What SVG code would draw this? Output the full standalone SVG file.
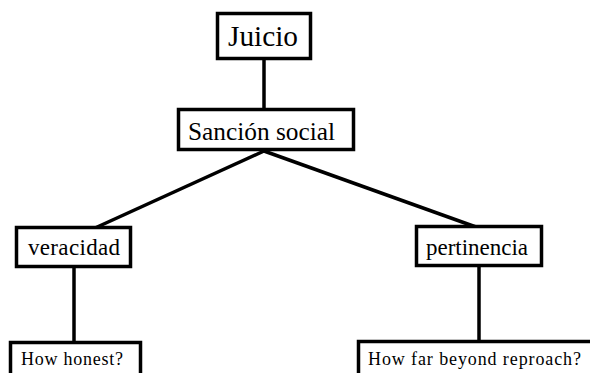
<svg xmlns="http://www.w3.org/2000/svg" width="590" height="373" viewBox="0 0 590 373">
<style>
.box{fill:#fff;stroke:#000;stroke-width:3.5}
.lbl{font-family:"Liberation Serif","Times New Roman",serif;fill:#000}
.con{stroke:#000;stroke-width:3.5;fill:none}
</style>
<rect width="590" height="373" fill="#fff"/>
<g id="connectors">
<line class="con" x1="264" y1="59" x2="264" y2="110"/>
<line class="con" x1="264" y1="151" x2="95" y2="228"/>
<line class="con" x1="264" y1="151" x2="476" y2="227"/>
<line class="con" x1="74" y1="266" x2="74" y2="343"/>
<line class="con" x1="479" y1="265" x2="479" y2="342"/>
</g>
<g id="juicio">
<rect class="box" x="217.5" y="13.5" width="93" height="45"/>
<text class="lbl" x="228" y="46" font-size="29" textLength="70" lengthAdjust="spacingAndGlyphs">Juicio</text>
</g>
<g id="sancion">
<rect class="box" x="178.5" y="109.5" width="175" height="40"/>
<text class="lbl" x="188" y="140" font-size="25" textLength="147" lengthAdjust="spacingAndGlyphs">Sanción social</text>
</g>
<g id="veracidad">
<rect class="box" x="16.5" y="227.5" width="114" height="39"/>
<text class="lbl" x="28" y="255" font-size="23" textLength="92">veracidad</text>
</g>
<g id="pertinencia">
<rect class="box" x="416.5" y="226.5" width="125" height="39"/>
<text class="lbl" x="426" y="255" font-size="23" textLength="102">pertinencia</text>
</g>
<g id="how-honest">
<rect class="box" x="10.5" y="342.5" width="130" height="40"/>
<text class="lbl" x="21" y="365" font-size="18" textLength="102">How honest?</text>
</g>
<g id="how-far">
<rect class="box" x="358.5" y="341.5" width="240" height="40"/>
<text class="lbl" x="368" y="365" font-size="18" textLength="213">How far beyond reproach?</text>
</g>
</svg>
